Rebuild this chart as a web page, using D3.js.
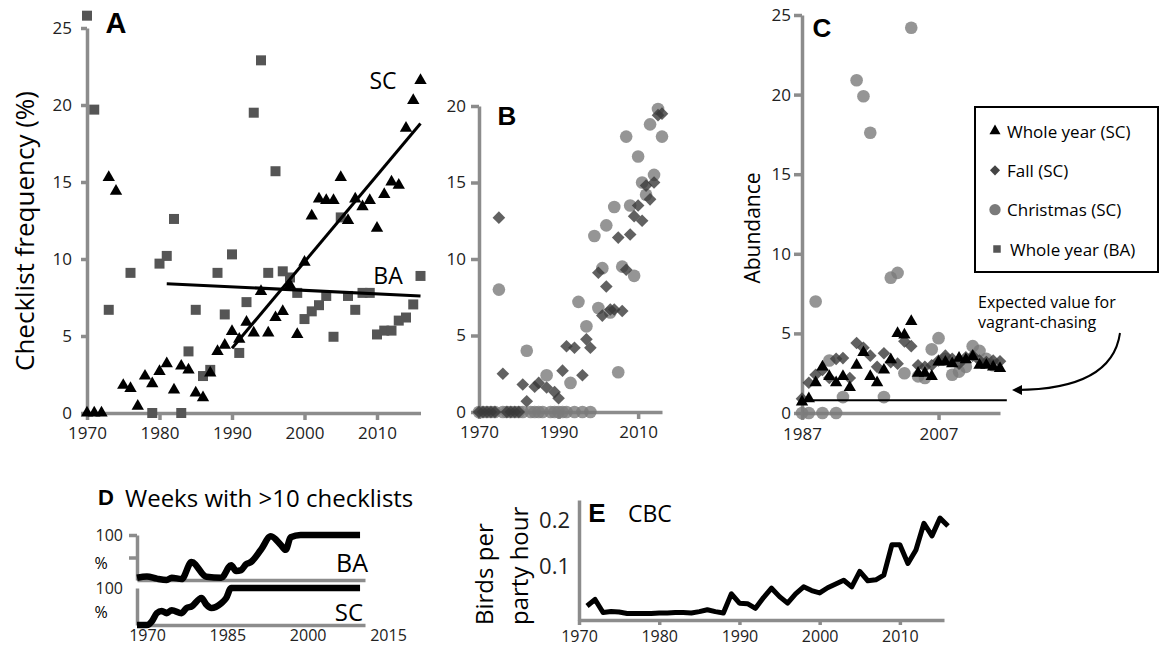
<!DOCTYPE html>
<html>
<head>
<meta charset="utf-8">
<script src="https://cdn.jsdelivr.net/npm/d3@7.9.0/dist/d3.min.js"></script>
<style>
  body { margin: 0; background: #fff; }
  svg { display: block; font-family: "Open Sans", sans-serif; }
</style>
</head>
<body>
<svg id="chart" width="1161" height="651"></svg>
<script>
// ---- data ----
// A: checklist frequency (%), whole year
const scFreq = [[1970,0],[1971,0],[1972,0],[1973,15.3],[1974,14.4],[1975,1.8],[1976,1.6],[1977,0.45],[1978,2.4],[1979,1.9],[1980,2.7],[1981,3.2],[1982,1.5],[1983,3.05],[1984,2.8],[1985,1.3],[1986,1.0],[1987,2.6],[1988,4.0],[1989,4.4],[1990,5.3],[1991,4.8],[1992,5.9],[1993,5.2],[1994,7.9],[1995,5.2],[1996,6.2],[1997,6.6],[1998,8.3],[1999,5.1],[2000,9.8],[2001,12.8],[2002,13.9],[2003,13.8],[2004,13.8],[2005,15.3],[2006,12.5],[2007,13.9],[2008,13.4],[2009,13.8],[2010,12.0],[2011,14.2],[2012,15.0],[2013,14.8],[2014,18.5],[2015,20.3],[2016,21.6]];
const baFreq = [[1970,25.8],[1971,19.7],[1973,6.7],[1976,9.1],[1979,0],[1980,9.7],[1981,10.2],[1982,12.6],[1983,0],[1984,4.0],[1985,6.7],[1986,2.4],[1987,2.8],[1988,9.1],[1989,6.4],[1990,10.3],[1991,3.9],[1992,7.2],[1993,19.5],[1994,22.9],[1995,9.1],[1996,15.7],[1997,9.2],[1998,8.8],[1999,7.8],[2000,6.1],[2001,6.6],[2002,7.0],[2003,7.6],[2004,4.95],[2005,12.7],[2006,7.6],[2007,6.7],[2008,7.8],[2009,7.8],[2010,5.1],[2011,5.35],[2012,5.35],[2013,6.0],[2014,6.2],[2015,7.05],[2016,8.9]];
const scTrend = [[1990,4.2],[2016,18.8]];
const baTrend = [[1981,8.4],[2016,7.6]];

// B: fall and christmas frequency (SC)
const fallB = [[1970,0],[1971,0],[1972,0],[1973,0],[1974,0],[1975,12.7],[1976,2.5],[1977,0],[1978,0],[1979,0],[1980,0],[1981,1.8],[1982,0.7],[1984,1.65],[1985,1.9],[1987,1.6],[1989,1.3],[1990,0.9],[1991,2.7],[1992,4.3],[1994,4.2],[1996,2.4],[1997,4.75],[1998,4.2],[2000,9.1],[2001,6.3],[2002,8.2],[2003,6.7],[2004,6.7],[2005,11.4],[2006,6.6],[2007,9.3],[2008,11.6],[2009,12.8],[2010,13.5],[2011,12.5],[2012,14.8],[2013,13.9],[2014,15.0],[2015,19.4],[2016,19.5]];
const christmasB = [[1970,0],[1971,0],[1972,0],[1973,0],[1974,0],[1975,8.0],[1976,0],[1977,0],[1978,0],[1979,0],[1980,0],[1981,0],[1982,4.0],[1983,0],[1984,0],[1985,0],[1986,0],[1987,2.4],[1988,0],[1989,0],[1990,0],[1991,0],[1992,0],[1993,1.9],[1994,0],[1995,7.2],[1996,0],[1997,5.6],[1998,0],[1999,11.5],[2000,6.8],[2001,9.4],[2002,12.2],[2003,6.5],[2004,13.4],[2005,2.6],[2006,9.5],[2007,18.0],[2008,13.5],[2009,8.9],[2010,16.7],[2011,15.0],[2012,14.2],[2013,18.8],[2014,15.5],[2015,19.8],[2016,18.0]];

// C: abundance
const wholeYearC = [[1987,0.7],[1988,0.9],[1989,1.9],[1990,2.9],[1991,2.3],[1992,1.9],[1993,2.3],[1994,1.6],[1995,3.0],[1996,3.8],[1997,2.3],[1998,1.9],[1999,2.7],[2000,3.35],[2001,5.0],[2002,4.9],[2003,5.75],[2004,2.5],[2005,2.5],[2006,2.3],[2007,3.2],[2008,3.2],[2009,3.1],[2010,3.45],[2011,3.35],[2012,3.55],[2013,3.0],[2014,3.0],[2015,2.9],[2016,2.8]];
const fallC = [[1987,0.9],[1988,1.9],[1989,2.4],[1990,2.7],[1991,2.2],[1992,3.4],[1993,3.45],[1994,2.2],[1995,4.4],[1996,4.1],[1997,3.6],[1998,2.9],[1999,3.75],[2000,3.2],[2001,3.1],[2002,4.5],[2003,4.2],[2004,3.0],[2005,2.9],[2006,3.0],[2007,3.3],[2008,3.6],[2009,3.4],[2010,3.1],[2011,3.5],[2012,3.6],[2013,3.3],[2014,3.2],[2015,3.3],[2016,3.25]];
const christmasC = [[1987,0],[1988,0],[1989,7.0],[1990,0],[1991,3.3],[1992,0],[1993,1.0],[1995,20.9],[1996,19.9],[1997,17.6],[1999,1.0],[2000,8.5],[2001,8.8],[2002,2.5],[2003,24.2],[2004,2.3],[2005,2.2],[2006,4.0],[2007,4.7],[2008,3.4],[2009,2.4],[2010,2.6],[2011,2.9],[2012,4.2],[2013,3.9],[2014,3.4],[2015,3.0]];
const expectedC = [[1987,0.8],[2017,0.8]];
const legendLabels = ['Whole year (SC)', 'Fall (SC)', 'Christmas (SC)', 'Whole year (BA)'];

// D: % of weeks with >10 checklists
const weeksBA = [[1970,5],[1972,8],[1974,3],[1976,0],[1977,5],[1979,2],[1981,40],[1984,7],[1987,5],[1989,33],[1990,20],[1991,22],[1992,35],[1993,40],[1995,67],[1997,97],[1999,78],[2000,67],[2001,95],[2003,100],[2015,100]];
const weeksSC = [[1970,0],[1972,0],[1973,10],[1974,32],[1975,38],[1976,32],[1977,40],[1979,32],[1980,46],[1981,50],[1983,73],[1984,55],[1985,46],[1987,59],[1988,73],[1989,100],[2015,100]];
const dTicks = [1970, 1985, 2000, 2015];

// E: CBC birds per party hour
const cbc = [[1971,0.016],[1972,0.030],[1973,0.002],[1974,0.004],[1975,0.003],[1976,0.0],[1977,0.0],[1978,0.0],[1979,0.0],[1980,0.001],[1981,0.001],[1982,0.002],[1983,0.002],[1984,0.001],[1985,0.004],[1986,0.008],[1987,0.004],[1988,0.001],[1989,0.042],[1990,0.022],[1991,0.021],[1992,0.011],[1993,0.034],[1994,0.054],[1995,0.036],[1996,0.022],[1997,0.042],[1998,0.057],[1999,0.049],[2000,0.044],[2001,0.055],[2002,0.063],[2003,0.071],[2004,0.057],[2005,0.090],[2006,0.070],[2007,0.072],[2008,0.082],[2009,0.147],[2010,0.147],[2011,0.107],[2012,0.136],[2013,0.193],[2014,0.166],[2015,0.204],[2016,0.187]];

// ---- drawing ----
const svg = d3.select('#chart');
const AXIS = '#8c8c8c';
const FONT = '"Open Sans", sans-serif';
const BOLD = '"Liberation Sans", Arial, sans-serif';

const triangle = d3.symbol().type(d3.symbolTriangle).size(66)();
const square = d3.symbol().type(d3.symbolSquare).size(100)();
const diamond = d3.symbol().type(d3.symbolSquare).size(80)();
const circle = d3.symbol().type(d3.symbolCircle).size(125)();

function styleAxis(g, size) {
  g.attr('font-family', FONT).attr('font-size', size);
  g.selectAll('path, line').attr('stroke', AXIS).attr('stroke-width', 3.5);
  g.selectAll('text').attr('fill', '#222');
}

function drawPoints(data, x, y, d, fill, opacity, rot) {
  svg.append('g').selectAll('path')
    .data(data).join('path')
    .attr('d', d)
    .attr('transform', (p) => `translate(${x(p[0])},${y(p[1])})` + (rot ? ` rotate(${rot})` : ''))
    .attr('fill', fill)
    .attr('fill-opacity', opacity);
}

function label(x, y, text, size, opts = {}) {
  svg.append('text')
    .attr('x', x).attr('y', y)
    .attr('font-family', opts.bold ? BOLD : FONT)
    .attr('font-weight', opts.bold ? 'bold' : 'normal')
    .attr('font-size', size)
    .attr('text-anchor', opts.anchor || 'start')
    .attr('dominant-baseline', 'central')
    .attr('transform', opts.rotate ? `rotate(-90,${x},${y})` : null)
    .attr('fill', '#000')
    .text(text);
}

// Panel A
const xA = d3.scaleLinear().domain([1970, 2016]).range([87, 420.5]);
const yA = d3.scaleLinear().domain([0, 25]).range([413, 28]);
svg.append('g').attr('transform', 'translate(0,413)')
  .call(d3.axisBottom(xA).tickValues([1970, 1980, 1990, 2000, 2010]).tickFormat(d3.format('d')).tickSize(7).tickSizeOuter(0).tickPadding(7))
  .call((g) => styleAxis(g, 17));
svg.append('g').attr('transform', 'translate(87,0)')
  .call(d3.axisLeft(yA).tickValues([0, 5, 10, 15, 20, 25]).tickSize(6).tickSizeOuter(0).tickPadding(9))
  .call((g) => styleAxis(g, 17));
drawPoints(baFreq, xA, yA, square, '#555', 1);
drawPoints(scFreq, xA, yA, triangle, '#000', 1);
const lineA = d3.line().x((d) => xA(d[0])).y((d) => yA(d[1]));
[scTrend, baTrend].forEach((t) => {
  svg.append('path').attr('d', lineA(t)).attr('stroke', '#000').attr('stroke-width', 3).attr('fill', 'none');
});
label(116, 23, 'A', 29, { bold: true, anchor: 'middle' });
label(383, 80, 'SC', 23, { anchor: 'middle' });
label(388, 275, 'BA', 23, { anchor: 'middle' });
label(24, 231, 'Checklist frequency (%)', 26, { anchor: 'middle', rotate: true });

// Panel B
const xB = d3.scaleLinear().domain([1970, 2016]).range([479, 662]);
const yB = d3.scaleLinear().domain([0, 20]).range([412, 106]);
svg.append('g').attr('transform', 'translate(0,412)')
  .call(d3.axisBottom(xB).tickValues([1970, 1990, 2010]).tickFormat(d3.format('d')).tickSize(7).tickSizeOuter(0).tickPadding(7))
  .call((g) => styleAxis(g, 17));
svg.append('g').attr('transform', 'translate(479,0)')
  .call(d3.axisLeft(yB).tickValues([0, 5, 10, 15, 20]).tickSize(8).tickSizeOuter(0).tickPadding(5))
  .call((g) => styleAxis(g, 17));
drawPoints(christmasB, xB, yB, circle, '#7a7a7a', 0.8);
drawPoints(fallB, xB, yB, diamond, '#3a3a3a', 0.8, 45);
label(507, 116, 'B', 26, { bold: true, anchor: 'middle' });

// Panel C
const xC = d3.scaleLinear().domain([1987, 2016]).range([802, 1000]);
const yC = d3.scaleLinear().domain([0, 25]).range([413, 15]);
svg.append('g').attr('transform', 'translate(0,413)')
  .call(d3.axisBottom(xC).tickValues([1987, 2007]).tickFormat(d3.format('d')).tickSize(7).tickSizeOuter(0).tickPadding(8))
  .call((g) => styleAxis(g, 17));
svg.append('g').attr('transform', 'translate(802,0)')
  .call(d3.axisLeft(yC).tickValues([0, 5, 10, 15, 20, 25]).tickSize(8).tickSizeOuter(0).tickPadding(3))
  .call((g) => styleAxis(g, 17));
drawPoints(christmasC, xC, yC, circle, '#7a7a7a', 0.8);
drawPoints(fallC, xC, yC, diamond, '#3a3a3a', 0.8, 45);
drawPoints(wholeYearC, xC, yC, triangle, '#000', 1);
svg.append('path')
  .attr('d', d3.line().x((d) => xC(d[0])).y((d) => yC(d[1]))(expectedC))
  .attr('stroke', '#000').attr('stroke-width', 1.8).attr('fill', 'none');
label(822, 28, 'C', 26, { bold: true, anchor: 'middle' });
label(752, 228, 'Abundance', 21, { anchor: 'middle', rotate: true });

// legend
svg.append('rect').attr('x', 975).attr('y', 107).attr('width', 183).attr('height', 165)
  .attr('fill', 'none').attr('stroke', '#000').attr('stroke-width', 2);
const legendMarks = [
  { d: triangle, fill: '#000', rot: 0, dx: 995 },
  { d: diamond, fill: '#444', rot: 45, dx: 995, s: 0.8 },
  { d: circle, fill: '#7a7a7a', rot: 0, dx: 995 },
  { d: square, fill: '#555', rot: 0, dx: 997, s: 0.75 }
];
const legendY = d3.scalePoint().domain(legendLabels).range([131, 249]);
legendLabels.forEach((name, i) => {
  const m = legendMarks[i];
  svg.append('path').attr('d', m.d)
    .attr('transform', `translate(${m.dx},${legendY(name)}) rotate(${m.rot}) scale(${m.s || 0.9})`)
    .attr('fill', m.fill);
  label(i === 3 ? 1010 : 1007, legendY(name), name, 17);
});

// expected value note
label(978, 302, 'Expected value for', 16);
label(978, 322, 'vagrant-chasing', 16);
svg.append('defs').append('marker')
  .attr('id', 'arrow').attr('viewBox', '0 0 10 10').attr('refX', 8).attr('refY', 5)
  .attr('markerWidth', 5).attr('markerHeight', 5).attr('orient', 'auto')
  .append('path').attr('d', 'M0,0 L10,5 L0,10 z').attr('fill', '#000');
svg.append('path').attr('d', 'M1120,333 Q1112,390 1014,390')
  .attr('stroke', '#000').attr('stroke-width', 2).attr('fill', 'none')
  .attr('marker-end', 'url(#arrow)');

// Panel D
const xD = d3.scaleLinear().domain([1970, 2016]).range([137, 365]);
// the figure's year labels sit a little off the data scale
const xDLabel = d3.scaleLinear().domain([1970, 2015]).range([147, 388]);
const yD1 = d3.scaleLinear().domain([0, 100]).range([580, 535]);
const yD2 = d3.scaleLinear().domain([0, 100]).range([625, 588]);
svg.append('g').attr('transform', 'translate(0,580)')
  .call(d3.axisBottom(xD).tickValues([]).tickSizeOuter(0))
  .call((g) => styleAxis(g, 16));
svg.append('g').attr('transform', 'translate(0,625)')
  .call(d3.axisBottom(xD).tickValues([]).tickSizeOuter(0))
  .call((g) => styleAxis(g, 16));
svg.append('g').attr('transform', 'translate(0,625)')
  .call(d3.axisBottom(xDLabel).tickValues(dTicks).tickFormat(d3.format('d')).tickSize(0).tickSizeOuter(0).tickPadding(5))
  .call((g) => styleAxis(g, 16))
  .call((g) => g.select('.domain').remove());
svg.append('g').attr('transform', 'translate(137,0)')
  .call(d3.axisLeft(yD1).tickValues([50, 100]).tickFormat((d) => (d === 100 ? '100' : '')).tickSize(8).tickSizeOuter(0).tickPadding(6))
  .call((g) => styleAxis(g, 16));
svg.append('g').attr('transform', 'translate(137,0)')
  .call(d3.axisLeft(yD2).tickValues([100]).tickFormat(d3.format('d')).tickSize(0).tickSizeOuter(0).tickPadding(14))
  .call((g) => styleAxis(g, 16));
const lineD1 = d3.line().x((d) => xD(d[0])).y((d) => yD1(d[1])).curve(d3.curveMonotoneX);
const lineD2 = d3.line().x((d) => xD(d[0])).y((d) => yD2(d[1])).curve(d3.curveMonotoneX);
svg.append('path').attr('d', lineD1(weeksBA)).attr('stroke', '#000').attr('stroke-width', 6.5).attr('fill', 'none').attr('stroke-linejoin', 'round');
svg.append('path').attr('d', lineD2(weeksSC)).attr('stroke', '#000').attr('stroke-width', 6.5).attr('fill', 'none').attr('stroke-linejoin', 'round');
label(101, 563, '%', 16, { anchor: 'middle' });
label(101, 612, '%', 16, { anchor: 'middle' });
label(352, 562, 'BA', 25, { anchor: 'middle' });
label(349, 611, 'SC', 24, { anchor: 'middle' });
label(106, 497, 'D', 22, { bold: true, anchor: 'middle' });
label(125, 497, 'Weeks with >10 checklists', 24);

// Panel E
const xE = d3.scaleLinear().domain([1970, 2015.5]).range([579, 944]);
const yE = d3.scaleLinear().domain([-0.014, 0.2428]).range([620, 500]);
svg.append('g').attr('transform', 'translate(0,620)')
  .call(d3.axisBottom(xE).tickValues([1970, 1980, 1990, 2000, 2010]).tickFormat(d3.format('d')).tickSize(5).tickSizeOuter(0).tickPadding(6))
  .call((g) => styleAxis(g, 16));
svg.append('g').attr('transform', 'translate(579,0)')
  .call(d3.axisLeft(yE).tickValues([0.1, 0.2]).tickFormat(d3.format('.1f')).tickSize(0).tickSizeOuter(0).tickPadding(9))
  .call((g) => styleAxis(g, 22));
svg.append('path')
  .attr('d', d3.line().x((d) => xE(d[0])).y((d) => yE(d[1]))(cbc))
  .attr('stroke', '#000').attr('stroke-width', 5).attr('fill', 'none').attr('stroke-linejoin', 'round');
label(597, 513, 'E', 26, { bold: true, anchor: 'middle' });
label(628, 513, 'CBC', 23);
label(483, 625, 'Birds per', 24, { rotate: true });
label(518, 625, 'party hour', 24, { rotate: true });
</script>
</body>
</html>
